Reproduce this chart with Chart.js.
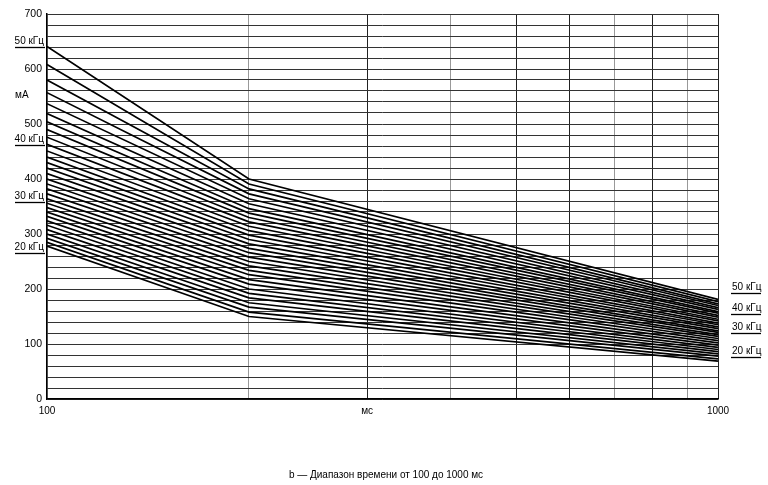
<!DOCTYPE html>
<html>
<head>
<meta charset="utf-8">
<script src="https://cdn.jsdelivr.net/npm/chart.js@4/dist/chart.umd.min.js"></script>
<style>
  html, body { margin: 0; padding: 0; background: #fff; }
  #wrap { width: 768px; height: 485px; }
</style>
</head>
<body>
<div id="wrap"><canvas id="currentChart" width="768" height="485"></canvas></div>
<script>
// time points, ms
const times = [100, 200, 1000];
// frequencies, kHz (top line to bottom line)
const freqs = [50, 49, 48, 47, 46, 45, 44, 43, 42, 41, 40, 39, 38, 37, 36, 35,
               34, 33, 32, 31, 30, 29, 28, 27, 26, 25, 24, 23, 22, 21, 20];
// current, mA, at 100 ms / 200 ms / 1000 ms
const at100 = [641, 608, 580, 557, 537, 519, 504, 490, 476, 463, 451, 440, 430, 420, 410, 400,
               391, 382, 373, 364, 356, 348, 340, 332, 324, 316, 308, 300, 292, 285, 278];
const at200 = [400, 391, 382, 373, 364, 355, 346, 338, 330, 322, 314, 306, 298, 290, 282, 274,
               266, 258, 250, 242, 234, 226, 217, 209, 200, 192, 184, 175, 167, 158, 150];
const at1000 = [181, 177, 173, 170, 166, 163, 159, 156, 152, 149, 145, 142, 138, 135, 131, 128,
                124, 121, 117, 114, 110, 106, 102, 98, 94, 90, 86, 82, 78, 73, 69];
// side labels and the mA level their underline sits at
const sideLabels = ['50 кГц', '40 кГц', '30 кГц', '20 кГц'];
const leftLabelAt = [640, 462, 358, 265];
const rightLabelAt = [193, 155, 120, 76];
const xLabels = { 100: '100', 300: 'мс', 1000: '1000' };
const darkX = [300, 500, 600, 800, 1000];

const FONT = '"Liberation Sans", Arial, sans-serif';

const datasets = freqs.map((f, i) => ({
    label: f + ' кГц',
    data: times.map((t, k) => ({ x: t, y: [at100, at200, at1000][k][i] })),
    borderColor: '#000',
    borderWidth: 1.7,
    pointRadius: 0,
    fill: false,
    tension: 0
}));

const notes = {
    id: 'notes',
    afterDraw(chart) {
        const ctx = chart.ctx;
        const ys = chart.scales.y;
        ctx.save();
        ctx.fillStyle = '#000';
        ctx.strokeStyle = '#000';
        ctx.font = '10px ' + FONT;
        ctx.textBaseline = 'alphabetic';
        ctx.lineWidth = 1.3;
        sideLabels.forEach((txt, i) => {
            let y = Math.round(ys.getPixelForValue(leftLabelAt[i]));
            ctx.textAlign = 'right';
            ctx.fillText(txt, 44, y - 3);
            ctx.beginPath(); ctx.moveTo(15, y + 0.5); ctx.lineTo(45, y + 0.5); ctx.stroke();
            y = Math.round(ys.getPixelForValue(rightLabelAt[i]));
            ctx.textAlign = 'left';
            ctx.fillText(txt, 732, y - 3);
            ctx.beginPath(); ctx.moveTo(731, y + 0.5); ctx.lineTo(761, y + 0.5); ctx.stroke();
        });
        ctx.textAlign = 'left';
        ctx.textBaseline = 'middle';
        ctx.fillText('мА', 15, ys.getPixelForValue(553));
        ctx.textAlign = 'center';
        ctx.font = '10px ' + FONT;
        ctx.fillText('b — Диапазон времени от 100 до 1000 мс', 386, 475);
        ctx.restore();
    }
};

new Chart(document.getElementById('currentChart').getContext('2d'), {
    type: 'line',
    data: { datasets: datasets },
    options: {
        responsive: false,
        animation: false,
        layout: { padding: { top: 14, right: 50, left: 0, bottom: 0 } },
        plugins: { legend: { display: false }, tooltip: { enabled: false } },
        scales: {
            x: {
                type: 'logarithmic',
                min: 100,
                max: 1000,
                afterBuildTicks: s => { s.ticks = s.ticks.filter(t => t.value % 100 === 0); },
                afterFit: s => { s.height = 86; },
                border: { display: true, color: '#000', width: 1.5 },
                grid: {
                    drawTicks: false,
                    color: c => darkX.includes(c.tick.value) ? '#222' : '#999',
                    lineWidth: 1
                },
                ticks: {
                    autoSkip: false,
                    maxRotation: 0,
                    padding: 6,
                    color: '#000',
                    font: { family: FONT, size: 10 },
                    callback: v => xLabels[v] || ''
                }
            },
            y: {
                min: 0,
                max: 700,
                afterFit: s => { s.width = 47; },
                border: { display: true, color: '#000', width: 1.5 },
                grid: { drawTicks: false, color: '#333', lineWidth: 1 },
                ticks: {
                    stepSize: 20,
                    autoSkip: false,
                    padding: 5,
                    color: '#000',
                    font: { family: FONT, size: 10.5 },
                    callback: v => (v % 100 === 0 ? v : '')
                }
            }
        }
    },
    plugins: [notes]
});
</script>
</body>
</html>
